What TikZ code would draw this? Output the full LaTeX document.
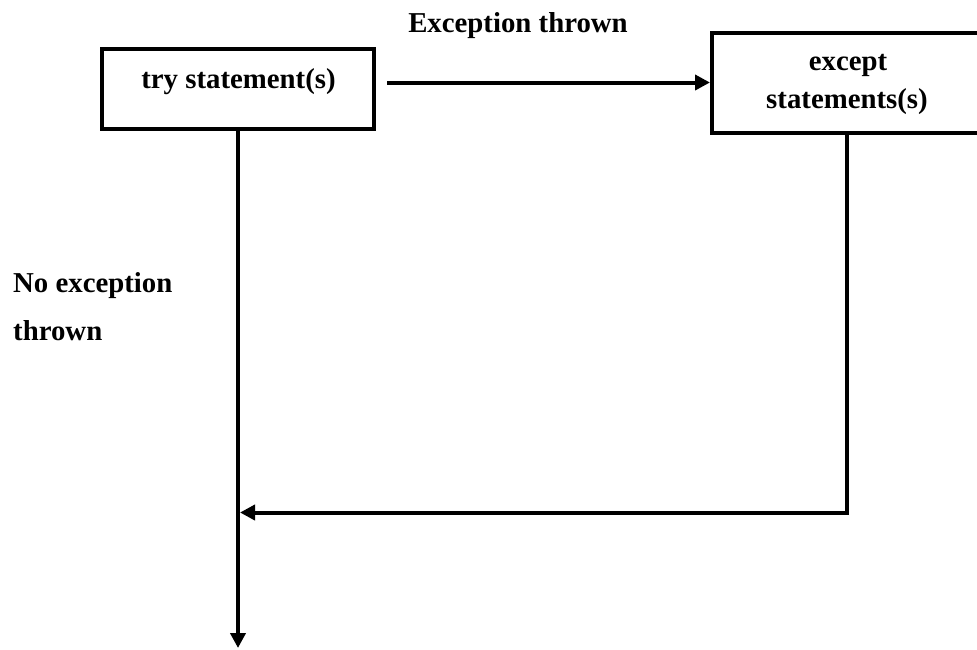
\documentclass[tikz,border=0pt]{standalone}
\usepackage{fontspec}
\setmainfont{Liberation Serif}
\usetikzlibrary{arrows.meta,shadows}
\begin{document}
\begin{tikzpicture}[x=1pt,y=-1pt,
  boxstyle/.style={draw=black, line width=4pt, fill=white, inner sep=0pt,
    drop shadow={shadow xshift=2pt, shadow yshift=-2pt, opacity=0.25, fill=black!60}},
  lbl/.style={font=\bfseries\fontsize{28.8}{34}\selectfont, inner sep=0pt},
  conn/.style={draw=black, line width=4pt, -{Triangle[length=15pt,width=15pt]}}]
\useasboundingbox[fill=white] (0,0) rectangle (977,649);
% boxes
\node[boxstyle, minimum width=272pt, minimum height=80pt] (try) at (238,89) {};
\node[boxstyle, minimum width=270pt, minimum height=100pt] (exc) at (847,83) {};
% box texts
\node[lbl, anchor=base] (trylbl) at (238.5,88) {try statement(s)};
\node[lbl, anchor=base] (exclbla) at (848,70) {except};
\node[lbl, anchor=base] (exclblb) at (847,108) {statements(s)};
% connector labels
\node[lbl, anchor=base] (thrownlbl) at (518,32) {Exception thrown};
\node[lbl, anchor=base west] (nolbla) at (13,292) {No exception};
\node[lbl, anchor=base west] (nolblb) at (13,340) {thrown};
% coordinates
\coordinate (bottom) at (238,648);
\coordinate (join) at (240,512.5);
% connectors
\draw[conn] ([xshift=11pt, yshift=6.5pt]try.east) -- ([yshift=6.5pt]try.east -| exc.west);
\draw[conn] (try.south) -- (bottom);
\draw[conn] (exc.south) |- (join);
\end{tikzpicture}
\end{document}
